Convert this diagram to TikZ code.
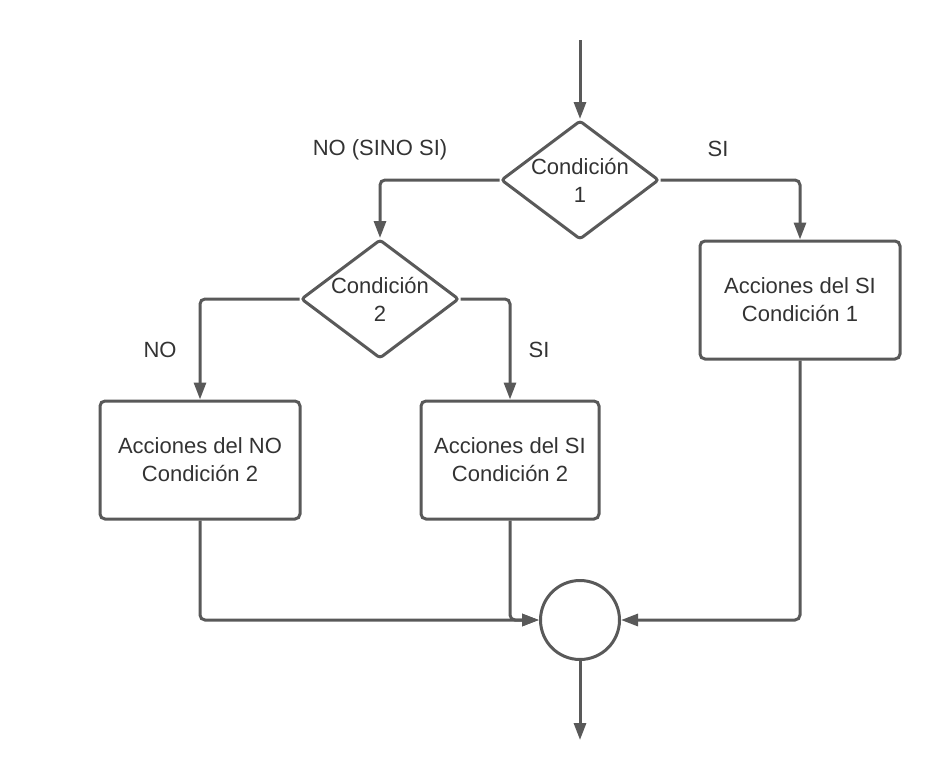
\documentclass[tikz,border=0pt]{standalone}
\usepackage{fontspec}
\setmainfont{Liberation Sans}
\usetikzlibrary{positioning,shapes.geometric,arrows.meta}
\definecolor{linea}{HTML}{595959}
\definecolor{texto}{HTML}{333333}
\tikzset{
>={Triangle[length=17pt,width=12pt]},
  decision/.style={
    diamond,
    draw=linea, line width=3pt,
    fill=white,
    rounded corners=3pt,
    minimum width=158pt,
    minimum height=119pt,
    inner sep=0pt},
  accion/.style={
    rectangle,
    rounded corners=5pt,
    draw=linea, line width=3pt,
    fill=white,
    text=texto,
    align=center,
    minimum width=200pt,
    minimum height=118pt,
    font=\fontsize{22}{28}\selectfont},
  union/.style={
    circle,
    draw=linea, line width=3pt,
    fill=white,
    minimum size=79pt},
  conector/.style={draw=linea, line width=3pt, ->, rounded corners=5pt},
  etiqueta/.style={text=texto, font=\fontsize{22}{28}\selectfont},
  dtexto/.style={text=texto, align=center, font=\fontsize{22}{28}\selectfont},
}

\begin{document}
\begin{tikzpicture}[x=1pt, y=-1pt]
  \useasboundingbox (0,0) rectangle (940,777);
  \coordinate (entrada) at (580,40);
  \coordinate (salida) at (580,740);
  % decisiones
  \node[decision, label={[dtexto]center:Condición\\1}] (cond1) at (580,180) {};
  \node[decision, label={[dtexto]center:Condición\\2}] (cond2) at (380,299) {};
  % acciones
  \node[accion] (accsi1) at (800,300) {Acciones del SI\\Condición 1};
  \node[accion] (accno2) at (200,460) {Acciones del NO\\Condición 2};
  \node[accion, minimum width=178pt] (accsi2) at (510,460) {Acciones del SI\\Condición 2};
  \node[union] (fin) at (580,620) {};
  % etiquetas
  \node[etiqueta] (lno1) at (380,150) {NO (SINO SI)};
  \node[etiqueta] (lsi1) at (718,149) {SI};
  \node[etiqueta] (lno2) at (160,350) {NO};
  \node[etiqueta] (lsi2) at (539,350) {SI};
  % conectores
  \draw[conector] (entrada) -- (cond1.north);
  \draw[conector] (cond1.west) -| (cond2.north);
  \draw[conector] (cond1.east) -| (accsi1.north);
  \draw[conector] (cond2.west) -| (accno2.north);
  \draw[conector] (cond2.east) -| (accsi2.north);
  \draw[conector] (accno2.south) |- (fin.west);
  \draw[conector] (accsi2.south) |- (fin.west);
  \draw[conector] (accsi1.south) |- (fin.east);
  \draw[conector] (fin.south) -- (salida);
\end{tikzpicture}
\end{document}
